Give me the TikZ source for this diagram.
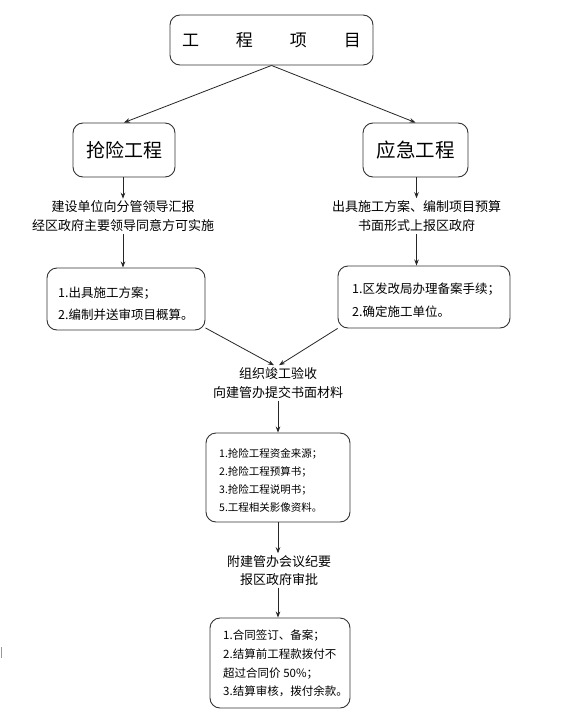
\documentclass[tikz,border=0pt]{standalone}
\usepackage{fontspec}
\setmainfont{Noto Sans CJK SC}
\usetikzlibrary{arrows.meta}
\begin{document}
\begin{tikzpicture}[x=1pt,y=-1pt,
  box/.style={draw=black!80, line width=0.9pt, rounded corners=10pt, inner sep=0pt},
  arr/.style={draw=black!85, line width=0.8pt, -{Stealth[length=6pt,width=4.5pt]}},
  lbl/.style={align=center, inner sep=2pt, font=\fontsize{13}{19}\selectfont},
  lst/.style={align=left, anchor=west, inner sep=0pt}]
\useasboundingbox[fill=white] (0,0) rectangle (574,717);
% top
\node[box, minimum width=203pt, minimum height=50pt] (top) at (271.5,40) {};
\node[inner sep=0pt, font=\fontsize{17}{17}\selectfont] (toptext) at (271.5,40) {工\hspace{37pt}程\hspace{37pt}项\hspace{37pt}目};
% second level
\node[box, minimum width=102pt, minimum height=54pt, font=\fontsize{19}{19}\selectfont] (lb) at (124,150) {抢险工程};
\node[box, minimum width=105pt, minimum height=54pt, font=\fontsize{19.5}{19.5}\selectfont] (rb) at (415.5,150) {应急工程};
\draw[arr] (top.south) -- (lb.north);
\draw[arr] (top.south) -- (rb.north);
% left branch
\node[lbl] (l1) at (123,216.5) {建设单位向分管领导汇报\\经区政府主要领导同意方可实施};
\node[box, minimum width=158pt, minimum height=62pt] (lb2) at (126,299) {};
\node[lst, font=\fontsize{12.5}{22}\selectfont] (lb2t) at (58,304) {1.出具施工方案；\\2.编制并送审项目概算。};
\draw[arr] (lb.south -| l1.north) -- (l1.north);
\draw[arr] (l1.south) -- (l1.south |- lb2.north);
% right branch
\node[lbl] (r1) at (416.5,216) {出具施工方案、编制项目预算\\书面形式上报区政府};
\node[box, minimum width=172pt, minimum height=62pt] (rb2) at (424,297) {};
\node[lst, font=\fontsize{12.5}{23}\selectfont] (rb2t) at (352,300.5) {1.区发改局办理备案手续；\\2.确定施工单位。};
\draw[arr] (rb.south -| r1.north) -- (r1.north);
\draw[arr] (r1.south) -- (r1.south |- rb2.north);
% merge
\node[lbl] (m1) at (278,383) {组织竣工验收\\向建管办提交书面材料};
\draw[arr] (lb2.-20) -- ([xshift=-4pt]m1.north);
\draw[arr] (rb2.200) -- ([xshift=1pt]m1.north);
\node[box, minimum width=144pt, minimum height=89pt] (b3) at (278,477.5) {};
\node[lst, font=\fontsize{10.5}{18.3}\selectfont] (b3t) at (219,480.5) {1.抢险工程资金来源；\\2.抢险工程预算书；\\3.抢险工程说明书；\\5.工程相关影像资料。};
\draw[arr] (m1.south -| b3.north) -- (b3.north);
\node[lbl, font=\fontsize{13}{18}\selectfont] (m2) at (279,570.5) {附建管办会议纪要\\报区政府审批};
\draw[arr] (b3.south) -- (b3.south |- m2.north);
\node[box, minimum width=140pt, minimum height=90pt] (b4) at (280,663) {};
\node[lst, font=\fontsize{11.5}{18.7}\selectfont] (b4t) at (223,663.5) {1.合同签订、备案；\\2.结算前工程款拨付不\\超过合同价 50\%；\\3.结算审核，拨付余款。};
\draw[arr] (m2.south -| b3.south) -- (b3.south |- b4.north);
% stray mark
\draw[black!40, line width=0.8pt] (1,647) -- (1,658);
\end{tikzpicture}
\end{document}
